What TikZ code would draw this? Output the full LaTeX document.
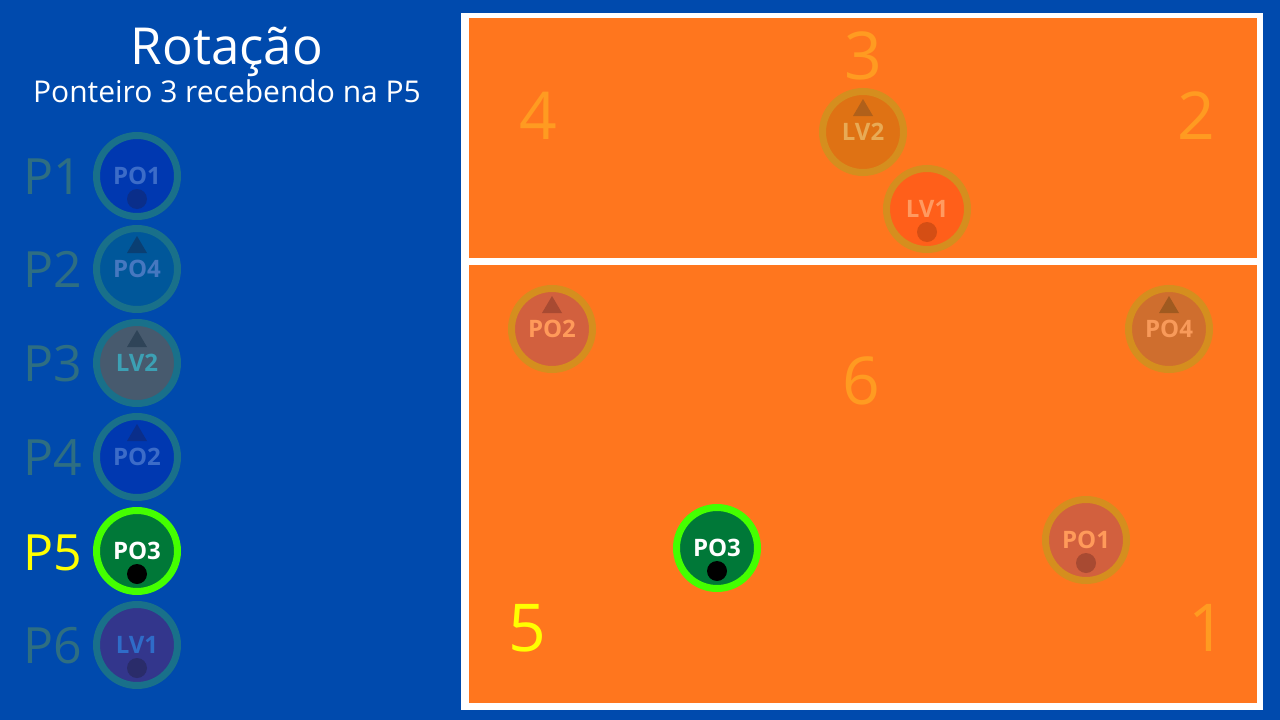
\documentclass[tikz,border=0pt]{standalone}
\usepackage{fontspec}
\setmainfont{Open Sans}
\begin{document}
\begin{tikzpicture}[x=1pt,y=-1pt]
\definecolor{bg}{HTML}{004AAD}
\definecolor{court}{HTML}{FF761E}
\definecolor{courtnum}{HTML}{FF9B21}
\definecolor{yel}{HTML}{FFFF00}
\definecolor{plbl}{HTML}{2E6E82}
\definecolor{tealring}{HTML}{19708A}
\definecolor{goldring}{HTML}{D58E1E}
\definecolor{greenring}{HTML}{44FF00}
\definecolor{greenfill}{HTML}{007838}
\tikzset{
  ring/.style={circle,inner sep=0pt,minimum size=81pt,line width=7pt},
  plabel/.style={font=\bfseries\fontsize{24}{26}\selectfont,inner sep=0pt},
  poslbl/.style={font=\fontsize{50}{52}\selectfont,anchor=base,inner sep=0pt},
  courtnumber/.style={font=\fontsize{66}{68}\selectfont,anchor=base,inner sep=0pt,text=courtnum},
}
% player macro: name, x, y, ringcolor, fillcolor, textcolor, label, marker(d/t), markercolor
\newcommand{\playerdot}[9]{%
  \node[ring,draw=#4,fill=#5] (#1) at (#2,#3) {};
  \node[plabel,text=#6] (#1-t) at (#2,#3) {#7};
  \ifx#8d\fill[#9] (#2,#3+23) circle (10pt);\fi
  \ifx#8t\fill[#9] (#2-10,#3-16) -- (#2+10,#3-16) -- (#2,#3-33) -- cycle;\fi
}
\useasboundingbox (0,0) rectangle (1280,720);
\fill[bg] (0,0) rectangle (1280,720);
% court
\fill[white] (461,13) rectangle (1263,710);
\fill[court] (469,18) rectangle (1257,258);
\fill[court] (469,265) rectangle (1257,703);
% titles
\node[font=\fontsize{51}{53}\selectfont,text=white,anchor=base,inner sep=0pt] (title) at (227,64) {Rotação};
\node[font=\fontsize{30}{32}\selectfont,text=white,anchor=base,inner sep=0pt] (sub) at (227,102) {Ponteiro 3 recebendo na P5};
% left labels
\node[poslbl,text=plbl] (p1) at (53,194) {P1};
\node[poslbl,text=plbl] (p2) at (53,287) {P2};
\node[poslbl,text=plbl] (p3) at (53,381) {P3};
\node[poslbl,text=plbl] (p4) at (53,475) {P4};
\node[poslbl,text=yel] (p5) at (53,570) {P5};
\node[poslbl,text=plbl] (p6) at (53,663) {P6};
% left circles
\definecolor{lpo1f}{HTML}{0038B0}\definecolor{lpo1t}{HTML}{3C6CC8}\definecolor{lpo1m}{HTML}{0A2E8A}
\definecolor{lpo4f}{HTML}{00579A}\definecolor{lpo4t}{HTML}{4678C0}\definecolor{lpo4m}{HTML}{0A3F73}
\definecolor{llv2f}{HTML}{475A6E}\definecolor{llv2t}{HTML}{3CA0B4}\definecolor{llv2m}{HTML}{2F4458}
\definecolor{llv1f}{HTML}{33368C}\definecolor{llv1t}{HTML}{2F6CC8}\definecolor{llv1m}{HTML}{2A2C6A}
\playerdot{L1}{137}{176}{tealring}{lpo1f}{lpo1t}{PO1}{d}{lpo1m}
\playerdot{L2}{137}{269}{tealring}{lpo4f}{lpo4t}{PO4}{t}{lpo4m}
\playerdot{L3}{137}{363}{tealring}{llv2f}{llv2t}{LV2}{t}{llv2m}
\playerdot{L4}{137}{457}{tealring}{lpo1f}{lpo1t}{PO2}{t}{lpo1m}
\playerdot{L5}{137}{551}{greenring}{greenfill}{white}{PO3}{d}{black}
\playerdot{L6}{137}{645}{tealring}{llv1f}{llv1t}{LV1}{d}{llv1m}
% court numbers
\node[courtnumber] (n3) at (863,79) {3};
\node[courtnumber] (n4) at (538,139) {4};
\node[courtnumber] (n2) at (1196,139) {2};
\node[courtnumber] (n6) at (861,404) {6};
\node[courtnumber,text=yel] (n5) at (527,651) {5};
\node[courtnumber] (n1) at (1207,651) {1};
% court players
\definecolor{clv2f}{HTML}{DF7214}\definecolor{clv2t}{HTML}{E8AA55}\definecolor{clv2m}{HTML}{B0601A}
\definecolor{clv1f}{HTML}{FF5F1A}\definecolor{clv1t}{HTML}{FF9A60}\definecolor{clv1m}{HTML}{D54E14}
\definecolor{cpof}{HTML}{D2603E}\definecolor{cpot}{HTML}{FF9A5A}\definecolor{cpom}{HTML}{A84A32}
\definecolor{cpo4f}{HTML}{CF6E2E}\definecolor{cpo4t}{HTML}{F89A5A}\definecolor{cpo4m}{HTML}{A05A20}
\playerdot{CLV2}{863}{132}{goldring}{clv2f}{clv2t}{LV2}{t}{clv2m}
\playerdot{CLV1}{927}{209}{goldring}{clv1f}{clv1t}{LV1}{d}{clv1m}
\playerdot{CPO2}{552}{329}{goldring}{cpof}{cpot}{PO2}{t}{cpom}
\playerdot{CPO4}{1169}{329}{goldring}{cpo4f}{cpo4t}{PO4}{t}{cpo4m}
\playerdot{CPO3}{717}{548}{greenring}{greenfill}{white}{PO3}{d}{black}
\playerdot{CPO1}{1086}{540}{goldring}{cpof}{cpot}{PO1}{d}{cpom}
\end{tikzpicture}
\end{document}
